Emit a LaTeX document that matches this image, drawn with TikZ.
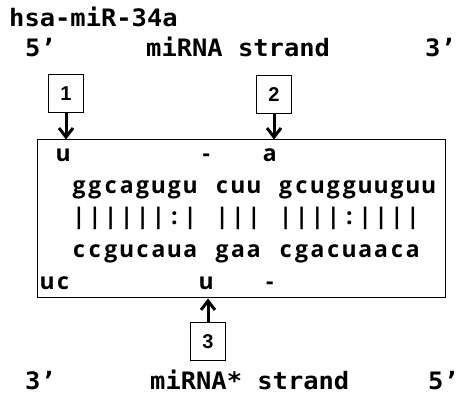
\documentclass[tikz,border=0pt]{standalone}
\usepackage{fontspec}
\setmainfont{Open Sans}
\newfontfamily\hdrfont{DejaVu Sans Mono}[FakeStretch=1.06]
\newfontfamily\numfont{Liberation Sans}
\newfontfamily\seqfont{Open Sans}
\usetikzlibrary{arrows.meta}
\newcommand\seqchars[4]{%
  \foreach \c [count=\k from #3] in {#4} {\node[seqtxt] (#1-\k) at ({79+15.9*\k},#2) {\c};}}
\begin{document}
\begin{tikzpicture}[x=1pt,y=-1pt,
  hdrtxt/.style={font=\hdrfont\bfseries\fontsize{24}{28}\selectfont, inner sep=0pt, anchor=base west},
  seqtxt/.style={font=\seqfont\bfseries\fontsize{23}{27}\selectfont, inner sep=0pt, anchor=base},
  numbox/.style={draw, line width=1pt, minimum width=35pt, minimum height=38pt, inner sep=0pt,
                 font=\numfont\bfseries\fontsize{20}{23}\selectfont},
  ptr/.style={line width=3pt, -{Straight Barb[length=9pt,width=14pt,line width=3pt]}}
]
\useasboundingbox (0,0) rectangle (466,395);
% headers
\node[hdrtxt] (title) at (9,27) {hsa-miR-34a};
\node[hdrtxt] (t5) at (25,57) {5’};
\node[hdrtxt] (tmi) at (146,57) {miRNA strand};
\node[hdrtxt] (t3) at (425,57) {3’};
\node[hdrtxt] (b3p) at (25,389) {3’};
\node[hdrtxt] (bmi) at (150,389) {miRNA* strand};
\node[hdrtxt] (b5p) at (428,389) {5’};
% main box
\node[draw, line width=1pt, minimum width=408pt, minimum height=158pt, inner sep=0pt, anchor=north west] (main) at (37,139.5) {};
% number boxes
\node[numbox] (n1) at (66,94) {1};
\node[numbox] (n2) at (274,94.5) {2};
\node[numbox] (n3) at (208,342) {3};
\draw[ptr] (n1.south) -- (n1.south |- main.north);
\draw[ptr] (n2.south) -- (n2.south |- main.north);
\draw[ptr] (n3.north) -- (n3.north |- main.south);
% sequence rows
\seqchars{ra}{161.5}{-1}{u}
\seqchars{rb}{161.5}{8}{-}
\seqchars{rc}{161.5}{12}{a}
\seqchars{sa}{194}{0}{g,g,c,a,g,u,g,u}
\seqchars{sb}{194}{9}{c,u,u}
\seqchars{sc}{194}{13}{g,c,u,g,g,u,u,g,u,u}
\seqchars{pa}{225}{0}{|,|,|,|,|,|,:,|}
\seqchars{pb}{225}{9}{|,|,|}
\seqchars{pc}{225}{13}{|,|,|,|,:,|,|,|,|}
\seqchars{qa}{258}{0}{c,c,g,u,c,a,u,a}
\seqchars{qb}{258}{9}{g,a,a}
\seqchars{qc}{258}{13}{c,g,a,c,u,a,a,c,a}
\seqchars{ua}{290}{-2}{u,c}
\seqchars{ub}{290}{8}{u}
\seqchars{uc}{290}{12}{-}
\end{tikzpicture}
\end{document}
